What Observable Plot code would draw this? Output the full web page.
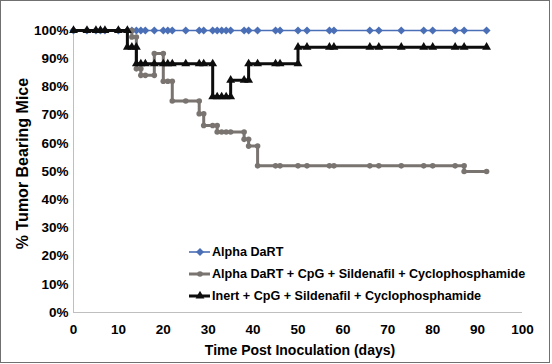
<!DOCTYPE html>
<html>
<head>
<meta charset="utf-8">
<script src="https://cdn.jsdelivr.net/npm/d3@7"></script>
<script src="https://cdn.jsdelivr.net/npm/@observablehq/plot@0.6"></script>
<style>
  html, body { margin: 0; padding: 0; background: #fff; }
  #wrap { position: relative; width: 552px; height: 364px; overflow: hidden; }
  #border { position: absolute; left: 0; top: 0; width: 550px; height: 363px; box-sizing: border-box; border: 1.5px solid #707070; pointer-events: none; }
  #legend { position: absolute; left: 186px; top: 240px; }
</style>
</head>
<body>
<div id="wrap"><div id="border"></div></div>
<script>
// ---- Data ----
const seriesNames = [
  "Alpha DaRT",
  "Alpha DaRT + CpG + Sildenafil + Cyclophosphamide",
  "Inert + CpG + Sildenafil + Cyclophosphamide"
];

const blueDays = [0,3,5,6,7,10,12,13,14,15,16,18,20,21,22,25,28,29,31,32,33,34,35,38,39,41,45,46,50,52,57,58,66,68,73,78,80,85,87,92];
const bluePct  = [100,100,100,100,100,100,100,100,100,100,100,100,100,100,100,100,100,100,100,100,100,100,100,100,100,100,100,100,100,100,100,100,100,100,100,100,100,100,100,100];

const greyDays = [0,3,5,6,7,10,12,13, 13,14, 14,15, 15,16,18, 18,20, 20,21,22, 22,25,28, 28,29, 29,31,32, 32,33,34,35,38, 38,39, 39,41, 41,45,46,50,52,57,58,66,68,73,78,80,85,87, 87,92];
const greyPct  = [100,100,100,100,100,100,100,100, 97.7,97.7, 86.4,86.4, 84.1,84.1,84.1, 91.8,91.8, 82,82,82, 75,75,75, 70.5,70.5, 66.3,66.3,66.3, 64,64,64,64,64, 61.4,61.4, 59,59, 52,52,52,52,52,52,52,52,52,52,52,52,52,52, 50,50];

const blackDays = [0,3,5,6,7,10,12, 12,13,14, 14,15,16,18,20,21,22,25,28,29,31, 31,32,33,34,35, 35,38,39, 39,41,45,46,50, 50,52,57,58,66,68,73,78,80,85,87,92];
const blackPct  = [100,100,100,100,100,100,100, 94.1,94.1,94.1, 88.2,88.2,88.2,88.2,88.2,88.2,88.2,88.2,88.2,88.2,88.2, 76.5,76.5,76.5,76.5,76.5, 82.4,82.4,82.4, 88.2,88.2,88.2,88.2,88.2, 94.1,94.1,94.1,94.1,94.1,94.1,94.1,94.1,94.1,94.1,94.1,94.1];

const xTicks = [0,10,20,30,40,50,60,70,80,90,100];
const yTicks = [0,10,20,30,40,50,60,70,80,90,100];

const xTitle = "Time Post Inoculation (days)";
const yTitle = "% Tumor Bearing Mice";

// ---- Build tables ----
const toRows = (days, pct) => days.map((d, i) => ({day: d, pct: pct[i]}));
const blue = toRows(blueDays, bluePct);
const grey = toRows(greyDays, greyPct);
const black = toRows(blackDays, blackPct);

const colors = ["#4a6fb6", "#7a7471", "#0d0d0d"];
const symbols = ["diamond2", "circle", "triangle"];
const lineWidths = [1.6, 3, 3];
const radii = [3.6, 2.8, 3.3];
const font = "'Liberation Sans', Arial, sans-serif";

const svg = Plot.plot({
  width: 552,
  height: 364,
  marginLeft: 73,
  marginRight: 30,
  marginTop: 30,
  marginBottom: 52,
  style: {fontFamily: font, fontWeight: "bold", fontSize: "13.5px", color: "#000", background: "transparent"},
  x: {domain: [0, 100], ticks: xTicks, tickSize: 0, tickPadding: 12, label: null},
  y: {domain: [0, 100], ticks: yTicks, tickFormat: d => d + "%", tickSize: 0, tickPadding: 5, label: null},
  marks: [
    Plot.ruleY([0], {stroke: "#bfbfbf", strokeWidth: 1}),
    Plot.ruleX([0], {stroke: "#bfbfbf", strokeWidth: 1}),
    Plot.line(blue, {x: "day", y: "pct", stroke: colors[0], strokeWidth: lineWidths[0]}),
    Plot.dot(blue, {x: "day", y: "pct", symbol: symbols[0], r: radii[0], fill: colors[0], stroke: "none"}),
    Plot.line(grey, {x: "day", y: "pct", stroke: colors[1], strokeWidth: lineWidths[1]}),
    Plot.dot(grey, {x: "day", y: "pct", symbol: symbols[1], r: radii[1], fill: colors[1], stroke: "none"}),
    Plot.line(black, {x: "day", y: "pct", stroke: colors[2], strokeWidth: lineWidths[2]}),
    Plot.dot(black, {x: "day", y: "pct", symbol: symbols[2], r: radii[2], fill: colors[2], stroke: "none"}),
    Plot.text([xTitle], {text: d => d, frameAnchor: "bottom", textAnchor: "middle", lineAnchor: "bottom", dx: 2, dy: 42, fontSize: 14, fontWeight: "bold", fill: "#000"}),
    Plot.text([yTitle], {text: d => d, frameAnchor: "left", textAnchor: "middle", rotate: -90, lineAnchor: "bottom", dx: -46, dy: -8, fontSize: 16, fontWeight: "bold", fill: "#000"})
  ]
});
document.getElementById("wrap").insertBefore(svg, document.getElementById("border"));

// ---- Legend (overlay inside the plot area) ----
const leg = d3.select("#wrap").append("svg")
  .attr("id", "legend").attr("width", 350).attr("height", 66)
  .style("font-family", font).style("font-weight", "bold").style("font-size", "12.6px");
seriesNames.forEach((name, i) => {
  const g = leg.append("g").attr("transform", `translate(0,${12 + i * 22})`);
  g.append("line").attr("x1", 3).attr("x2", 24).attr("y1", 0).attr("y2", 0)
    .attr("stroke", colors[i]).attr("stroke-width", lineWidths[i]);
  const sym = [d3.symbolDiamond2, d3.symbolCircle, d3.symbolTriangle][i];
  g.append("path").attr("transform", "translate(14,0)")
    .attr("d", d3.symbol(sym, Math.PI * radii[i] * radii[i])()).attr("fill", colors[i]);
  g.append("text").attr("x", 26).attr("y", 0).attr("dy", "0.35em").attr("fill", "#000").text(name);
});
</script>
</body>
</html>
